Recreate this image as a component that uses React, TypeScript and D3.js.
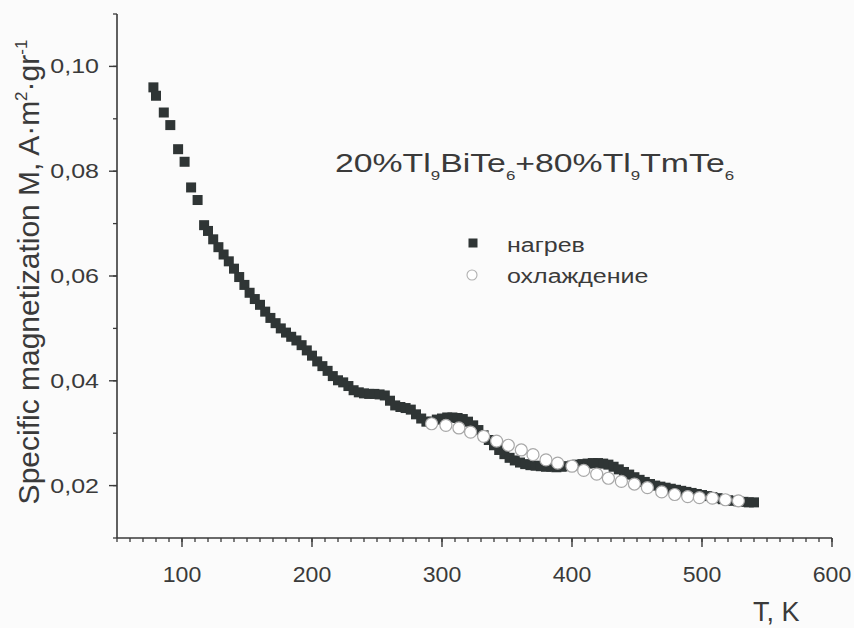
import React from 'react';
import * as d3 from 'd3';

// heating (нагрев) series
const heatT = [78, 80, 86, 91, 97, 102, 107, 112, 117, 120, 124, 128, 132, 136, 140, 144, 148, 152, 156, 160, 164, 168, 172, 176, 180, 184, 188, 192, 196, 200, 204, 208, 212, 216, 220, 224, 228, 232, 236, 240, 244, 248, 252, 256, 260, 264, 268, 272, 276, 280, 284, 288, 292, 296, 300, 304, 308, 312, 316, 320, 324, 328, 332, 336, 340, 344, 348, 352, 356, 360, 364, 368, 372, 376, 380, 384, 388, 392, 396, 400, 404, 408, 412, 416, 420, 424, 428, 432, 436, 440, 444, 448, 452, 456, 460, 464, 468, 472, 476, 480, 484, 488, 492, 496, 500, 504, 508, 512, 516, 520, 524, 528, 532, 536, 540];
const heatM = [0.0960, 0.0944, 0.0912, 0.0888, 0.0842, 0.0818, 0.0769, 0.0745, 0.0697, 0.0686, 0.0670, 0.0655, 0.0641, 0.0628, 0.0614, 0.0598, 0.0583, 0.0568, 0.0556, 0.0545, 0.0532, 0.0520, 0.0510, 0.0500, 0.0492, 0.0484, 0.0477, 0.0468, 0.0458, 0.0448, 0.0437, 0.0428, 0.0419, 0.0409, 0.0401, 0.0397, 0.0390, 0.0382, 0.0378, 0.0376, 0.0375, 0.0375, 0.0374, 0.0372, 0.0362, 0.0353, 0.0350, 0.0348, 0.0345, 0.0336, 0.0328, 0.0322, 0.0322, 0.0326, 0.0328, 0.0330, 0.0330, 0.0329, 0.0327, 0.0322, 0.0315, 0.0306, 0.0296, 0.0287, 0.0277, 0.0268, 0.0260, 0.0253, 0.0248, 0.0244, 0.0241, 0.0239, 0.0238, 0.0237, 0.0236, 0.0236, 0.0235, 0.0236, 0.0237, 0.0238, 0.0240, 0.0241, 0.0242, 0.0243, 0.0243, 0.0242, 0.0240, 0.0236, 0.0231, 0.0226, 0.0221, 0.0216, 0.0211, 0.0207, 0.0203, 0.0200, 0.0198, 0.0196, 0.0194, 0.0192, 0.0190, 0.0188, 0.0186, 0.0184, 0.0182, 0.0180, 0.0178, 0.0176, 0.0174, 0.0172, 0.0171, 0.0170, 0.0169, 0.0168, 0.0168];

// cooling (охлаждение) series
const coolT = [292, 303, 313, 322, 332, 342, 351, 361, 370, 380, 389, 400, 409, 419, 428, 438, 448, 458, 469, 479, 489, 498, 508, 518, 528];
const coolM = [0.0318, 0.0315, 0.0310, 0.0302, 0.0294, 0.0285, 0.0277, 0.0268, 0.0259, 0.0249, 0.0243, 0.0237, 0.0229, 0.0222, 0.0214, 0.0208, 0.0203, 0.0196, 0.0188, 0.0183, 0.0179, 0.0177, 0.0176, 0.0173, 0.0171];

const xTicks = [100, 200, 300, 400, 500, 600];
const xTickLabels = ['100', '200', '300', '400', '500', '600'];
const yTicks = [0.02, 0.04, 0.06, 0.08, 0.10];
const yTickLabels = ['0,02', '0,04', '0,06', '0,08', '0,10'];
const legendLabels = ['нагрев', 'охлаждение'];

const FONT = 'Liberation Sans, Arial, sans-serif';
const INK = '#3a3a3a';

export default function App() {
  const W = 854, H = 628;
  const x = d3.scaleLinear().domain([50, 600]).range([117, 832]);
  const y = d3.scaleLinear().domain([0.01, 0.11]).range([538, 14]);
  const xMinor = d3.range(5, 61).map((i) => i * 10);
  const yMinor = d3.range(1, 12).map((i) => i / 100);
  const heat = heatT.map((t, i) => ({ t, m: heatM[i] }));
  const cool = coolT.map((t, i) => ({ t, m: coolM[i] }));
  const sq = 10;

  return (
    <svg width={W} height={H} style={{ position: 'absolute', left: 0, top: 0, background: '#fbfbfb' }} fontFamily={FONT}>
      {/* axes */}
      <line x1={x(50)} x2={x(50)} y1={y(0.11)} y2={y(0.01)} stroke={INK} strokeWidth={1.6} />
      <line x1={x(50)} x2={x(600)} y1={y(0.01)} y2={y(0.01)} stroke={INK} strokeWidth={1.6} />
      {yMinor.map((v) => (
        <line key={'ym' + v} x1={x(50)} x2={x(50) - 4} y1={y(v)} y2={y(v)} stroke={INK} strokeWidth={1.3} />
      ))}
      {yTicks.map((v, i) => (
        <g key={'yt' + v}>
          <line x1={x(50)} x2={x(50) - 8} y1={y(v)} y2={y(v)} stroke={INK} strokeWidth={1.4} />
          <g transform={`translate(${x(50) - 18},${y(v) + 7}) scale(1.25,1)`}>
            <text textAnchor="end" fontSize={20} fill={INK}>{yTickLabels[i]}</text>
          </g>
        </g>
      ))}
      {xMinor.map((v) => (
        <line key={'xm' + v} x1={x(v)} x2={x(v)} y1={y(0.01)} y2={y(0.01) + 4} stroke={INK} strokeWidth={1.3} />
      ))}
      {xTicks.map((v, i) => (
        <g key={'xt' + v}>
          <line x1={x(v)} x2={x(v)} y1={y(0.01)} y2={y(0.01) + 9} stroke={INK} strokeWidth={1.4} />
          <g transform={`translate(${x(v)},${582}) scale(1.05,1)`}>
            <text textAnchor="middle" fontSize={22} fill={INK}>{xTickLabels[i]}</text>
          </g>
        </g>
      ))}
      {/* axis titles */}
      <text x={753} y={621} fontSize={27} fill={INK}>T, K</text>
      <text transform="translate(39,272) rotate(-90)" textAnchor="middle" fontSize={30} fill={INK}>
        Specific magnetization M, A·m<tspan dy={-12} fontSize={17}>2</tspan><tspan dy={12}>·gr</tspan><tspan dy={-12} fontSize={17}>-1</tspan>
      </text>

      {/* data */}
      {heat.map((d, i) => (
        <rect key={'h' + i} x={x(d.t) - sq / 2} y={y(d.m) - sq / 2} width={sq} height={sq} fill="#2f3535" />
      ))}
      {cool.map((d, i) => (
        <circle key={'c' + i} cx={x(d.t)} cy={y(d.m)} r={6} fill="#ffffff" stroke="#a8a8a8" strokeWidth={1.2} />
      ))}

      {/* title */}
      <g transform="translate(335,172) scale(1.3,1)">
        <text fontSize={26} fill={INK}>
          20%Tl<tspan dy={8} fontSize={13}>9</tspan><tspan dy={-8}>BiTe</tspan><tspan dy={8} fontSize={13}>6</tspan><tspan dy={-8}>+80%Tl</tspan><tspan dy={8} fontSize={13}>9</tspan><tspan dy={-8}>TmTe</tspan><tspan dy={8} fontSize={13}>6</tspan>
        </text>
      </g>

      {/* legend */}
      <rect x={473 - 4.5} y={243 - 4.5} width={9} height={9} fill="#2f3535" />
      <circle cx={472} cy={275} r={5} fill="#ffffff" stroke="#b0b0b0" strokeWidth={1.1} />
      <g transform="translate(507,252) scale(1.25,1)">
        <text fontSize={20} fill={INK}>{legendLabels[0]}</text>
      </g>
      <g transform="translate(507,283) scale(1.25,1)">
        <text fontSize={20} fill={INK}>{legendLabels[1]}</text>
      </g>
    </svg>
  );
}
